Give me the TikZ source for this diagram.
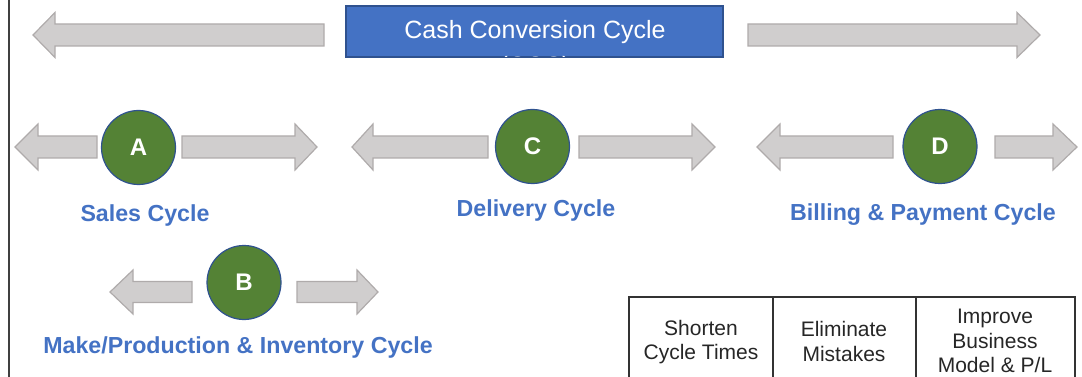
\documentclass[tikz,border=0pt]{standalone}
\usepackage{fontspec}
\setmainfont{Liberation Sans}
\definecolor{arrfill}{HTML}{D0CECE}
\definecolor{arrdraw}{HTML}{AFABAB}
\definecolor{boxblue}{HTML}{4472C4}
\definecolor{boxedge}{HTML}{2F528F}
\definecolor{circgreen}{HTML}{548235}
\newcommand\blkarrow[6]{% far end x, head base x, tip x, center y, shaft half, head half
  \draw[blockarr] (#1,#4-#5) -- (#2,#4-#5) -- (#2,#4-#6) -- (#3,#4) -- (#2,#4+#6) -- (#2,#4+#5) -- (#1,#4+#5) -- cycle;}
\tikzset{
  blockarr/.style={fill=arrfill, draw=arrdraw, line width=1.2pt, line join=miter},
  stage/.style={circle, fill=circgreen, draw=boxedge, line width=1.2pt, minimum size=74pt, inner sep=0pt,
    text=white, font=\fontsize{24}{28}\selectfont\bfseries},
  cyclelabel/.style={text=boxblue, font=\fontsize{23.2}{27}\selectfont\bfseries, inner sep=0pt},
  celltext/.style={align=center, font=\fontsize{21}{24.5}\selectfont, inner sep=0pt, text=black!85},
  tableline/.style={draw=black!80, line width=1.4pt}
}
\begin{document}
\begin{tikzpicture}[x=1pt,y=-1pt]
\useasboundingbox (0,0) rectangle (1082,377);
% left border
\draw[black!75, line width=1.4pt] (9,0) -- (9,377);
% top arrows
\blkarrow{324}{55}{33}{35}{11}{22.5}
\blkarrow{748}{1017}{1040}{35}{11}{22.5}
% CCC box
\node[draw=boxedge, fill=boxblue, line width=1.2pt, minimum width=377pt, minimum height=51pt, inner sep=0pt] (ccc) at (534.5,31.5) {};
\begin{scope}
  \clip (346.6,6.6) rectangle (722.4,56.4);
  \node[text=white, font=\fontsize{25}{30}\selectfont, anchor=base, inner sep=0pt] (ccct) at (535,39) {Cash Conversion Cycle};
  \node[text=white, font=\fontsize{25}{30}\selectfont, anchor=base, inner sep=0pt] (cccs) at (535,75) {(CCC)};
\end{scope}
% A
\blkarrow{97}{38}{15}{147}{11}{23}
\blkarrow{182}{295}{317}{147}{11}{23}
\node[stage] (A) at (138.5,147.5) {A};
\node[cyclelabel] (la) at (145,216) {Sales Cycle};
% C
\blkarrow{488}{373}{352}{147}{11}{23}
\blkarrow{579}{692}{715}{147}{11}{23}
\node[stage] (C) at (532.5,146.5) {C};
\node[cyclelabel] (lc) at (536,211) {Delivery Cycle};
% D
\blkarrow{893}{780}{757}{147}{11}{23}
\blkarrow{995}{1053}{1077}{147}{11}{23}
\node[stage] (D) at (940,146.5) {D};
\node[cyclelabel] (ld) at (923,215) {Billing \& Payment Cycle};
% B
\blkarrow{192}{133}{110}{292}{10.5}{22}
\blkarrow{297}{357}{378}{292}{10.5}{22}
\node[stage] (B) at (244,282.5) {B};
\node[cyclelabel] (lb) at (238,348) {Make/Production \& Inventory Cycle};
% table
\draw[tableline] (629,377) -- (629,297) -- (1075,297) -- (1075,377);
\draw[tableline] (773,297) -- (773,377);
\draw[tableline] (916,297) -- (916,377);
\node[celltext] (t1) at (701,342) {Shorten\\Cycle Times};
\node[celltext] (t2) at (844,341.5) {Eliminate\\Mistakes};
\node[celltext] (t3) at (995,341) {Improve\\Business\\Model \& P/L};
\end{tikzpicture}
\end{document}
